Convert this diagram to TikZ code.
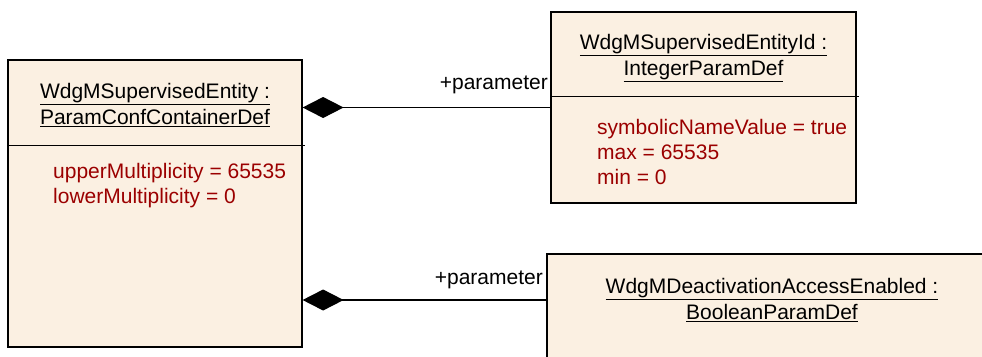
\documentclass[tikz,border=0pt]{standalone}
\usepackage{fontspec}
\setmainfont{Liberation Sans}
\usetikzlibrary{arrows.meta}

\definecolor{classfill}{RGB}{251,240,226}
\definecolor{attrred}{RGB}{155,0,0}

\tikzset{
  classbox/.style={draw, fill=classfill, line width=1.2pt, inner sep=0pt},
  septline/.style={line width=1.2pt},
  classtitle/.style={align=center, inner sep=0pt, font=\fontsize{21}{26}\selectfont},
  classattrs/.style={align=left, anchor=west, inner sep=0pt, text=attrred, font=\fontsize{21}{25}\selectfont},
  rolename/.style={anchor=east, inner sep=0pt, font=\fontsize{21}{26}\selectfont},
  composite/.style={{Diamond[length=41pt,width=21pt]}-, line width=1.2pt},
}

\begin{document}
\begin{tikzpicture}[x=1pt, y=-1pt]

\useasboundingbox (0, 0) rectangle (982, 356);

% Boxes
\node[classbox, minimum width=294pt, minimum height=287pt] (entity) at (155, 203.5) {};
\node[classbox, minimum width=305pt, minimum height=191pt] (id) at (703.5, 107.5) {};
\node[classbox, minimum width=450pt, minimum height=116pt] (deact) at (772, 312) {};

% Compartments
\draw[septline] ([yshift=-86pt]entity.north west) -- ([xshift=2pt, yshift=-86pt]entity.north east);
\draw[septline] ([yshift=-85pt]id.north west) -- ([xshift=2pt, yshift=-85pt]id.north east);

% Titles
\node[classtitle] (entitytitle) at (155, 105) {\underline{WdgMSupervisedEntity :}\\\underline{ParamConfContainerDef}};
\node[classtitle] (idtitle) at (703.5, 58.5) {\underline{WdgMSupervisedEntityId :}\\\underline{IntegerParamDef}};
\node[classtitle] (deacttitle) at (772, 300) {\underline{WdgMDeactivationAccessEnabled :}\\\underline{BooleanParamDef}};

% Attributes
\node[classattrs] (entityattrs) at (53, 186) {upperMultiplicity = 65535\\lowerMultiplicity = 0};
\node[classattrs] (idattrs) at (597, 152) {symbolicNameValue = true\\max = 65535\\min = 0};

% Compositions
\draw[composite] (entity.east |- id.west) -- (id.west);
\draw[composite] (entity.east |- deacttitle) -- (deact.west |- deacttitle);

% Roles
\node[rolename] (idrole) at (548, 85) {+parameter};
\node[rolename] (deactrole) at (543, 280) {+parameter};

\end{tikzpicture}
\end{document}
